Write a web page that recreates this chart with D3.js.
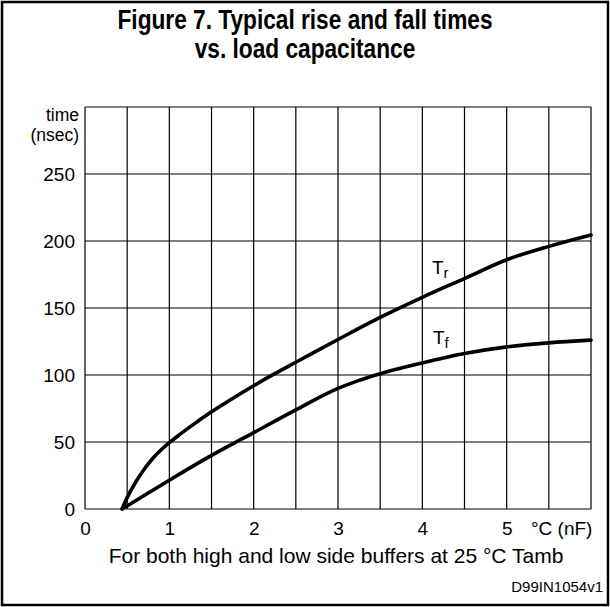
<!DOCTYPE html>
<html>
<head>
<meta charset="utf-8">
<script src="https://cdn.jsdelivr.net/npm/d3@7/dist/d3.min.js"></script>
<style>
  html, body { margin: 0; padding: 0; background: #fff; }
  svg { display: block; }
  text { font-family: "Liberation Sans", Arial, Helvetica, sans-serif; fill: #000; }
  .title { font-weight: bold; }
</style>
</head>
<body>
<svg id="chart" width="610" height="607"></svg>
<script>
// ---- data ----
const titleLines = ["Figure 7. Typical rise and fall times", "vs. load capacitance"];
const xTickValues = [0, 1, 2, 3, 4, 5];
const yTickValues = [0, 50, 100, 150, 200, 250];
const xGridValues = [0, 0.5, 1, 1.5, 2, 2.5, 3, 3.5, 4, 4.5, 5, 5.5, 6];
const yGridValues = [0, 50, 100, 150, 200, 250, 300];

// Tr (rise time) : capacitance (nF) vs time (ns)
const trCap  = [0.44, 0.5, 0.6, 0.7, 0.8, 0.9, 1.0, 1.1, 1.25, 1.5, 1.75, 2.0, 2.25, 2.5, 3.0, 3.5, 4.0, 4.5, 5.0, 5.5, 6.0];
const trTime = [0, 8.5, 20, 29.5, 37.5, 44, 49.5, 54.5, 61.5, 72.5, 82.5, 92, 101, 109.5, 126.5, 143, 158, 172, 186, 196, 204.5];
// Tf (fall time)
const tfCap  = [0.44, 0.75, 1.0, 1.5, 2.0, 2.5, 3.0, 3.25, 3.5, 4.0, 4.5, 5.0, 5.5, 6.0];
const tfTime = [0, 12, 21.5, 40, 57, 74, 90, 96, 101, 109, 116, 121, 124, 126];

// ---- layout ----
const svg = d3.select("#chart");
const W = 610, H = 607;
const plot = { left: 85, right: 591, top: 107, bottom: 509 };

const x = d3.scaleLinear().domain([0, 6]).range([plot.left, plot.right]);
const y = d3.scaleLinear().domain([0, 300]).range([plot.bottom, plot.top]);

// outer frame
svg.append("rect")
  .attr("x", 2).attr("y", 2).attr("width", W - 4).attr("height", H - 4)
  .attr("fill", "none").attr("stroke", "#000").attr("stroke-width", 2.5);

// title (condensed bold)
svg.append("g").selectAll("text").data(titleLines).join("text")
  .attr("class", "title")
  .attr("transform", (d, i) => `translate(305,${29 + i * 29}) scale(0.81,1)`)
  .attr("text-anchor", "middle")
  .attr("font-size", 28)
  .text(d => d);

// grid
const grid = svg.append("g").attr("stroke", "#000").attr("stroke-width", 1.2);
grid.selectAll("line.v").data(xGridValues).join("line")
  .attr("class", "v")
  .attr("x1", d => x(d)).attr("x2", d => x(d))
  .attr("y1", y(300)).attr("y2", y(0));
grid.selectAll("line.h").data(yGridValues).join("line")
  .attr("class", "h")
  .attr("x1", x(0)).attr("x2", x(6))
  .attr("y1", d => y(d)).attr("y2", d => y(d));

// y axis labels
const yAxis = d3.axisLeft(y).tickValues(yTickValues).tickSize(0).tickPadding(10).tickFormat(d3.format("d"));
const gy = svg.append("g").attr("transform", `translate(${plot.left},0)`).call(yAxis);
gy.select(".domain").remove();
gy.selectAll("text").attr("font-size", 19).attr("font-family", "'Liberation Sans', Arial, sans-serif");

// y axis unit label
svg.append("text").attr("x", 79).attr("y", 121).attr("text-anchor", "end").attr("font-size", 17.5).text("time");
svg.append("text").attr("x", 79).attr("y", 141).attr("text-anchor", "end").attr("font-size", 17.5).text("(nsec)");

// x axis labels
const xAxis = d3.axisBottom(x).tickValues(xTickValues).tickSize(0).tickPadding(13).tickFormat(d3.format("d"));
const gx = svg.append("g").attr("transform", `translate(0,${plot.bottom})`).call(xAxis);
gx.select(".domain").remove();
gx.selectAll("text").attr("font-size", 19).attr("font-family", "'Liberation Sans', Arial, sans-serif");

svg.append("text").attr("x", 531).attr("y", 535).attr("font-size", 19).text("°C (nF)");

// caption
svg.append("text").attr("x", 336).attr("y", 563).attr("text-anchor", "middle").attr("font-size", 21)
  .text("For both high and low side buffers at 25 °C Tamb");
svg.append("text").attr("x", 603).attr("y", 592).attr("text-anchor", "end").attr("font-size", 15)
  .text("D99IN1054v1");

// curves
const line = d3.line().x(d => x(d[0])).y(d => y(d[1])).curve(d3.curveMonotoneX);
const trData = trCap.map((c, i) => [c, trTime[i]]);
const tfData = tfCap.map((c, i) => [c, tfTime[i]]);
svg.append("path").datum(trData).attr("d", line)
  .attr("fill", "none").attr("stroke", "#000").attr("stroke-width", 3.6).attr("stroke-linecap", "round");
svg.append("path").datum(tfData).attr("d", line)
  .attr("fill", "none").attr("stroke", "#000").attr("stroke-width", 3.6).attr("stroke-linecap", "round");

// curve labels
function curveLabel(xp, yp, main, sub) {
  const t = svg.append("text").attr("x", xp).attr("y", yp).attr("font-size", 19);
  t.append("tspan").text(main);
  t.append("tspan").attr("font-size", 15).attr("dy", 4).text(sub);
}
curveLabel(432, 274, "T", "r");
curveLabel(433, 344, "T", "f");
</script>
</body>
</html>
